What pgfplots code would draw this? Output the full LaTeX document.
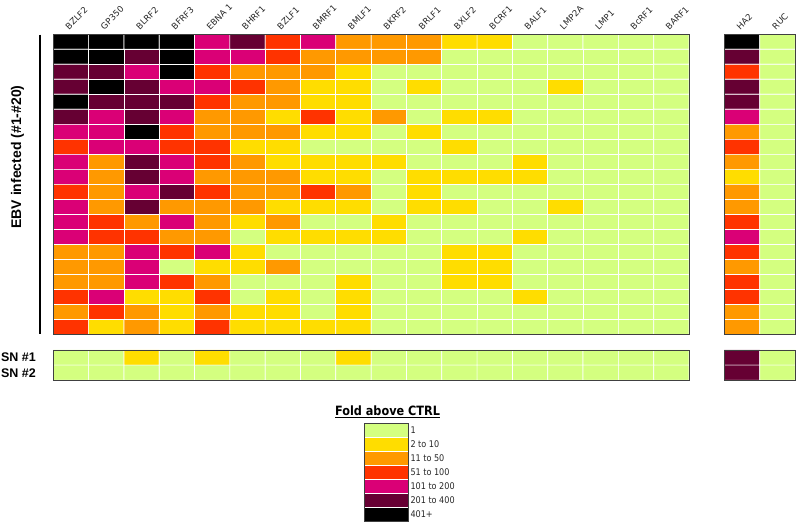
\documentclass[border=0pt]{standalone}
\usepackage{graphicx}
\usepackage{pgfplots}
\pgfplotsset{compat=1.18}
\usepackage{fontspec}
\setmainfont{DejaVu Sans}
\newfontfamily\tahoma[FakeStretch=0.88]{DejaVu Sans}
\newfontfamily\arialfont{Liberation Sans}
\newcommand\tickfont{\fontsize{8.6}{10}\selectfont}
\newcommand\legfont{\tahoma\fontsize{9.2}{11}\selectfont}
\newcommand\rl[1]{\rotatebox{45}{#1}}
\pgfplotsset{
  colormap={fold}{rgb255=(212,255,128) rgb255=(255,221,0) rgb255=(255,153,0) rgb255=(255,51,0) rgb255=(218,0,118) rgb255=(102,0,51) rgb255=(0,0,0)},
  heat/.style={scale only axis, anchor=north west, enlargelimits=false, axis on top,
    major tick length=0pt, axis line style={draw=black!75, line width=0.9pt},
    colormap name=fold, colormap access=direct, xtick=\empty, ytick=\empty,
    ticklabel style={font=\tickfont, text=black!85}},
  cells/.style={matrix plot, mesh/cols=#1, point meta=explicit, shader=faceted, faceted color=white, line width=0.7pt},
  toplabels/.style={xticklabel pos=upper, xticklabel style={anchor=south west, inner sep=0pt, xshift=-6.5pt, yshift=4pt}},
}
\begin{document}
\begin{tikzpicture}
\path[use as bounding box] (0pt,0pt) rectangle (800pt,526pt);
% main panel (row 1 at top)
\begin{axis}[heat, toplabels, at={(53.3pt,491.7pt)}, width=635.7pt, height=300.2pt,
  xmin=-0.5, xmax=17.5, ymin=0.5, ymax=20.5,
  xtick={0,1,...,17},
  xticklabels={\rl{BZLF2},\rl{GP350},\rl{BLRF2},\rl{BFRF3},\rl{EBNA 1},\rl{BHRF1},\rl{BZLF1},\rl{BMRF1},\rl{BMLF1},\rl{BKRF2},\rl{BRLF1},\rl{BXLF2},\rl{BCRF1},\rl{BALF1},\rl{LMP2A},\rl{LMP1},\rl{BcRF1},\rl{BARF1}}]
\addplot[cells=18] coordinates {
(0,1)[6] (1,1)[6] (2,1)[6] (3,1)[6] (4,1)[4] (5,1)[5] (6,1)[3] (7,1)[4] (8,1)[2] (9,1)[2] (10,1)[2] (11,1)[1] (12,1)[1] (13,1)[0] (14,1)[0] (15,1)[0] (16,1)[0] (17,1)[0]
(0,2)[6] (1,2)[6] (2,2)[5] (3,2)[6] (4,2)[4] (5,2)[4] (6,2)[3] (7,2)[2] (8,2)[2] (9,2)[2] (10,2)[2] (11,2)[0] (12,2)[0] (13,2)[0] (14,2)[0] (15,2)[0] (16,2)[0] (17,2)[0]
(0,3)[5] (1,3)[5] (2,3)[4] (3,3)[6] (4,3)[3] (5,3)[2] (6,3)[2] (7,3)[2] (8,3)[1] (9,3)[0] (10,3)[0] (11,3)[0] (12,3)[0] (13,3)[0] (14,3)[0] (15,3)[0] (16,3)[0] (17,3)[0]
(0,4)[5] (1,4)[6] (2,4)[5] (3,4)[4] (4,4)[4] (5,4)[3] (6,4)[2] (7,4)[1] (8,4)[1] (9,4)[0] (10,4)[1] (11,4)[0] (12,4)[0] (13,4)[0] (14,4)[1] (15,4)[0] (16,4)[0] (17,4)[0]
(0,5)[6] (1,5)[5] (2,5)[5] (3,5)[5] (4,5)[3] (5,5)[2] (6,5)[2] (7,5)[1] (8,5)[1] (9,5)[0] (10,5)[0] (11,5)[0] (12,5)[0] (13,5)[0] (14,5)[0] (15,5)[0] (16,5)[0] (17,5)[0]
(0,6)[5] (1,6)[4] (2,6)[5] (3,6)[4] (4,6)[2] (5,6)[2] (6,6)[1] (7,6)[3] (8,6)[1] (9,6)[2] (10,6)[0] (11,6)[1] (12,6)[1] (13,6)[0] (14,6)[0] (15,6)[0] (16,6)[0] (17,6)[0]
(0,7)[4] (1,7)[4] (2,7)[6] (3,7)[3] (4,7)[2] (5,7)[2] (6,7)[2] (7,7)[1] (8,7)[1] (9,7)[0] (10,7)[1] (11,7)[0] (12,7)[0] (13,7)[0] (14,7)[0] (15,7)[0] (16,7)[0] (17,7)[0]
(0,8)[3] (1,8)[4] (2,8)[4] (3,8)[3] (4,8)[3] (5,8)[1] (6,8)[1] (7,8)[0] (8,8)[0] (9,8)[0] (10,8)[0] (11,8)[1] (12,8)[0] (13,8)[0] (14,8)[0] (15,8)[0] (16,8)[0] (17,8)[0]
(0,9)[4] (1,9)[2] (2,9)[5] (3,9)[4] (4,9)[3] (5,9)[2] (6,9)[1] (7,9)[1] (8,9)[1] (9,9)[1] (10,9)[0] (11,9)[0] (12,9)[0] (13,9)[1] (14,9)[0] (15,9)[0] (16,9)[0] (17,9)[0]
(0,10)[4] (1,10)[2] (2,10)[5] (3,10)[4] (4,10)[2] (5,10)[2] (6,10)[2] (7,10)[1] (8,10)[1] (9,10)[0] (10,10)[1] (11,10)[1] (12,10)[1] (13,10)[1] (14,10)[0] (15,10)[0] (16,10)[0] (17,10)[0]
(0,11)[3] (1,11)[2] (2,11)[4] (3,11)[5] (4,11)[3] (5,11)[2] (6,11)[2] (7,11)[3] (8,11)[2] (9,11)[0] (10,11)[1] (11,11)[0] (12,11)[0] (13,11)[0] (14,11)[0] (15,11)[0] (16,11)[0] (17,11)[0]
(0,12)[4] (1,12)[2] (2,12)[5] (3,12)[2] (4,12)[2] (5,12)[2] (6,12)[1] (7,12)[1] (8,12)[1] (9,12)[0] (10,12)[1] (11,12)[1] (12,12)[0] (13,12)[0] (14,12)[1] (15,12)[0] (16,12)[0] (17,12)[0]
(0,13)[4] (1,13)[3] (2,13)[2] (3,13)[4] (4,13)[2] (5,13)[1] (6,13)[2] (7,13)[0] (8,13)[0] (9,13)[1] (10,13)[0] (11,13)[0] (12,13)[0] (13,13)[0] (14,13)[0] (15,13)[0] (16,13)[0] (17,13)[0]
(0,14)[4] (1,14)[3] (2,14)[3] (3,14)[2] (4,14)[2] (5,14)[0] (6,14)[1] (7,14)[1] (8,14)[1] (9,14)[1] (10,14)[0] (11,14)[0] (12,14)[0] (13,14)[1] (14,14)[0] (15,14)[0] (16,14)[0] (17,14)[0]
(0,15)[2] (1,15)[2] (2,15)[4] (3,15)[3] (4,15)[4] (5,15)[1] (6,15)[0] (7,15)[0] (8,15)[0] (9,15)[0] (10,15)[0] (11,15)[1] (12,15)[1] (13,15)[0] (14,15)[0] (15,15)[0] (16,15)[0] (17,15)[0]
(0,16)[2] (1,16)[2] (2,16)[4] (3,16)[0] (4,16)[1] (5,16)[1] (6,16)[2] (7,16)[0] (8,16)[0] (9,16)[0] (10,16)[0] (11,16)[1] (12,16)[1] (13,16)[0] (14,16)[0] (15,16)[0] (16,16)[0] (17,16)[0]
(0,17)[2] (1,17)[2] (2,17)[4] (3,17)[3] (4,17)[2] (5,17)[0] (6,17)[0] (7,17)[0] (8,17)[1] (9,17)[0] (10,17)[0] (11,17)[1] (12,17)[1] (13,17)[0] (14,17)[0] (15,17)[0] (16,17)[0] (17,17)[0]
(0,18)[3] (1,18)[4] (2,18)[1] (3,18)[1] (4,18)[3] (5,18)[0] (6,18)[1] (7,18)[0] (8,18)[1] (9,18)[0] (10,18)[0] (11,18)[0] (12,18)[0] (13,18)[1] (14,18)[0] (15,18)[0] (16,18)[0] (17,18)[0]
(0,19)[2] (1,19)[3] (2,19)[2] (3,19)[1] (4,19)[2] (5,19)[1] (6,19)[1] (7,19)[0] (8,19)[1] (9,19)[0] (10,19)[0] (11,19)[0] (12,19)[0] (13,19)[0] (14,19)[0] (15,19)[0] (16,19)[0] (17,19)[0]
(0,20)[3] (1,20)[1] (2,20)[2] (3,20)[1] (4,20)[3] (5,20)[1] (6,20)[1] (7,20)[1] (8,20)[1] (9,20)[0] (10,20)[0] (11,20)[0] (12,20)[0] (13,20)[0] (14,20)[0] (15,20)[0] (16,20)[0] (17,20)[0]
};
\end{axis}
% HA2 / RUC panel
\begin{axis}[heat, toplabels, at={(724.3pt,491.7pt)}, width=71pt, height=300.2pt,
  xmin=-0.5, xmax=1.5, ymin=0.5, ymax=20.5, xtick={0,1}, xticklabels={\rl{HA2},\rl{RUC}}]
\addplot[cells=2] coordinates {
(0,1)[6] (1,1)[0] (0,2)[5] (1,2)[0] (0,3)[3] (1,3)[0] (0,4)[5] (1,4)[0]
(0,5)[5] (1,5)[0] (0,6)[4] (1,6)[0] (0,7)[2] (1,7)[0] (0,8)[3] (1,8)[0]
(0,9)[2] (1,9)[0] (0,10)[1] (1,10)[0] (0,11)[2] (1,11)[0] (0,12)[2] (1,12)[0]
(0,13)[3] (1,13)[0] (0,14)[4] (1,14)[0] (0,15)[3] (1,15)[0] (0,16)[2] (1,16)[0]
(0,17)[3] (1,17)[0] (0,18)[3] (1,18)[0] (0,19)[2] (1,19)[0] (0,20)[2] (1,20)[0]
};
\end{axis}
% SN panel
\begin{axis}[heat, at={(53.3pt,176pt)}, width=635.7pt, height=30.3pt,
  xmin=-0.5, xmax=17.5, ymin=0.5, ymax=2.5, ytick={1,2}, yticklabels={SN \#1,SN \#2},
  yticklabel style={anchor=east, inner sep=0pt, xshift=-17.3pt, font=\arialfont\bfseries\fontsize{12.5}{14}\selectfont, text=black}]
\addplot[cells=18] coordinates {
(0,1)[0] (1,1)[0] (2,1)[1] (3,1)[0] (4,1)[1] (5,1)[0] (6,1)[0] (7,1)[0] (8,1)[1] (9,1)[0] (10,1)[0] (11,1)[0] (12,1)[0] (13,1)[0] (14,1)[0] (15,1)[0] (16,1)[0] (17,1)[0]
(0,2)[0] (1,2)[0] (2,2)[0] (3,2)[0] (4,2)[0] (5,2)[0] (6,2)[0] (7,2)[0] (8,2)[0] (9,2)[0] (10,2)[0] (11,2)[0] (12,2)[0] (13,2)[0] (14,2)[0] (15,2)[0] (16,2)[0] (17,2)[0]
};
\end{axis}
\begin{axis}[heat, at={(724.3pt,176pt)}, width=71pt, height=30.3pt,
  xmin=-0.5, xmax=1.5, ymin=0.5, ymax=2.5]
\addplot[cells=2] coordinates {(0,1)[5] (1,1)[0] (0,2)[5] (1,2)[0]};
\end{axis}
% legend (colour key)
\begin{axis}[heat, at={(364pt,102.5pt)}, width=44.3pt, height=97.7pt,
  xmin=-0.5, xmax=1.5, ymin=0.5, ymax=7.5,
  ytick={1,2,3,4,5,6,7},
  yticklabels={1,2 to 10,11 to 50,51 to 100,101 to 200,201 to 400,401+},
  yticklabel style={anchor=west, inner sep=0pt, xshift=46.3pt, font=\legfont}]
\addplot[matrix plot, mesh/cols=2, point meta=explicit, shader=flat corner] coordinates {
(0,1)[0] (1,1)[0] (0,2)[1] (1,2)[1] (0,3)[2] (1,3)[2] (0,4)[3] (1,4)[3]
(0,5)[4] (1,5)[4] (0,6)[5] (1,6)[5] (0,7)[6] (1,7)[6]
};
\draw[white, line width=0.7pt] (axis cs:-0.5,1.5) -- (axis cs:1.5,1.5)
  (axis cs:-0.5,2.5) -- (axis cs:1.5,2.5) (axis cs:-0.5,3.5) -- (axis cs:1.5,3.5)
  (axis cs:-0.5,4.5) -- (axis cs:1.5,4.5) (axis cs:-0.5,5.5) -- (axis cs:1.5,5.5)
  (axis cs:-0.5,6.5) -- (axis cs:1.5,6.5);
\end{axis}
\node[anchor=base, font=\tahoma\bfseries\fontsize{12.8}{15}\selectfont] at (387.5pt,110pt) {\underline{Fold above CTRL}};
% EBV bracket and label
\draw[line width=2.5pt] (40pt,491.3pt) -- (40pt,192pt);
\node[rotate=90, font=\arialfont\bfseries\fontsize{14}{16}\selectfont] at (17.5pt,369pt) {EBV infected (\#1-\#20)};
\end{tikzpicture}
\end{document}
